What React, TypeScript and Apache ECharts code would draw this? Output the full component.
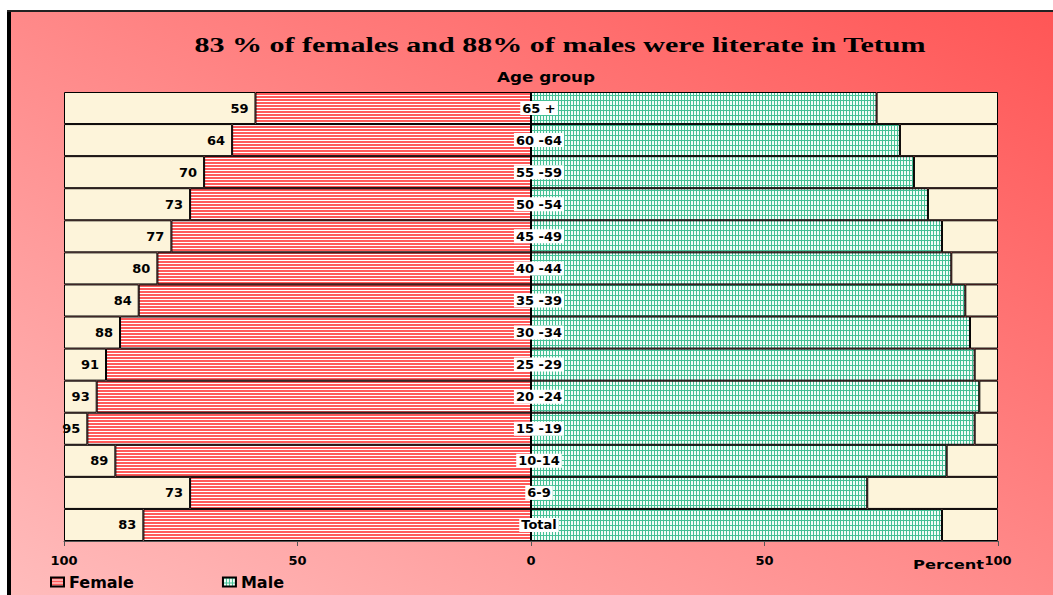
import React, { useEffect, useRef } from "react";
import * as echarts from "echarts";

const TITLE = "83 % of females and 88% of males were literate in Tetum";
const AGE_GROUPS = ["65 +", "60 -64", "55 -59", "50 -54", "45 -49", "40 -44", "35 -39", "30 -34", "25 -29", "20 -24", "15 -19", "10-14", "6-9", "Total"];
const FEMALE = [59, 64, 70, 73, 77, 80, 84, 88, 91, 93, 95, 89, 73, 83];
const MALE = [74, 79, 82, 85, 88, 90, 93, 94, 95, 96, 95, 89, 72, 88];
const X_TICKS = [-100, -50, 0, 50, 100];

const SANS = "DejaVu Sans";
const CREAM = "#fdf4da";

function makePattern(w: number, h: number, draw: (ctx: CanvasRenderingContext2D) => void) {
  const c = document.createElement("canvas");
  c.width = w;
  c.height = h;
  const ctx = c.getContext("2d")!;
  draw(ctx);
  return { image: c, repeat: "repeat" } as any;
}

export default function App() {
  const ref = useRef<HTMLDivElement>(null);
  useEffect(() => {
    if (!ref.current) return;
    const chart = echarts.init(ref.current, null, { renderer: "svg" });

    const femalePattern = makePattern(4, 3, (ctx) => {
      ctx.fillStyle = "#ffffff";
      ctx.fillRect(0, 0, 4, 3);
      ctx.fillStyle = "#ff5a5a";
      ctx.fillRect(0, 0, 4, 2);
    });
    const malePattern = makePattern(3, 5, (ctx) => {
      ctx.fillStyle = "#f2fcf7";
      ctx.fillRect(0, 0, 3, 5);
      ctx.fillStyle = "#45c096";
      ctx.fillRect(0, 0, 1, 5);
      ctx.fillRect(0, 0, 3, 1);
    });

    const mc = document.createElement("canvas").getContext("2d")!;
    mc.font = 'bold 20px "Liberation Serif"';
    const tw = mc.measureText(TITLE).width || 560;
    const titleScale = 732 / tw;

    const femaleNeg = FEMALE.map((v) => -v);
    const femaleRest = FEMALE.map((v) => -(100 - v));
    const maleRest = MALE.map((v) => 100 - v);

    const barBase = {
      type: "bar",
      barCategoryGap: "0%",
      barGap: "-100%",
    };

    chart.setOption({
      animation: false,
      graphic: [
        {
          type: "rect",
          z: -10,
          silent: true,
          shape: { x: 8, y: 11, width: 1045, height: 584 },
          style: {
            fill: new echarts.graphic.LinearGradient(0, 1, 1, 0, [
              { offset: 0, color: "#ffbcbc" },
              { offset: 1, color: "#ff5656" },
            ]),
          },
        },
        {
          type: "line",
          z: 100,
          silent: true,
          shape: { x1: 9, y1: 11, x2: 9, y2: 595 },
          style: { stroke: "#000", lineWidth: 4 },
        },
        {
          type: "line",
          z: 100,
          silent: true,
          shape: { x1: 7, y1: 11, x2: 1053, y2: 11 },
          style: { stroke: "#222", lineWidth: 2 },
        },
        {
          type: "text",
          x: 560,
          y: 45,
          scaleX: titleScale,
          style: {
            text: TITLE,
            fontFamily: "Liberation Serif",
            fontWeight: "bold",
            fontSize: 20,
            fill: "#000",
            align: "center",
            verticalAlign: "middle",
          },
        },
        {
          type: "text",
          x: 546,
          y: 77,
          scaleX: 1.2,
          style: {
            text: "Age group",
            fontFamily: SANS,
            fontWeight: "bold",
            fontSize: 14,
            fill: "#000",
            align: "center",
            verticalAlign: "middle",
          },
        },
        {
          type: "text",
          x: 984,
          y: 564,
          scaleX: 1.25,
          style: {
            text: "Percent",
            fontFamily: SANS,
            fontWeight: "bold",
            fontSize: 13,
            fill: "#000",
            align: "right",
            verticalAlign: "middle",
          },
        },
      ],
      grid: { left: 64, right: 55, top: 92, bottom: 54, containLabel: false },
      legend: {
        left: 45,
        top: 569,
        icon: "rect",
        itemWidth: 13,
        itemHeight: 9,
        itemGap: 88,
        data: ["Female", "Male"],
        textStyle: { fontFamily: SANS, fontWeight: "bold", fontSize: 16, color: "#000" },
      },
      xAxis: {
        type: "value",
        min: -100,
        max: 100,
        interval: 50,
        splitLine: { show: false },
        axisLine: { show: true, lineStyle: { color: "#555", width: 1 } },
        axisTick: { show: true, length: 5, lineStyle: { color: "#555" } },
        axisLabel: {
          margin: 13,
          fontFamily: SANS,
          fontWeight: "bold",
          fontSize: 13,
          color: "#000",
          formatter: (v: number) => (X_TICKS.includes(v) ? String(Math.abs(v)) : ""),
        },
      },
      yAxis: {
        type: "category",
        inverse: true,
        data: AGE_GROUPS,
        z: 10,
        axisLine: { show: false, onZero: false },
        axisTick: { show: false },
        splitLine: { show: false },
        axisLabel: {
          align: "center",
          margin: -475,
          fontFamily: SANS,
          fontWeight: "bold",
          fontSize: 13,
          color: "#000",
          backgroundColor: "#ffffff",
          padding: [1, 2, 0, 2],
        },
      },
      series: [
        {
          ...barBase,
          name: "Female",
          stack: "f",
          data: femaleNeg,
          itemStyle: { color: femalePattern, borderColor: "#000", borderWidth: 1 },
          label: {
            show: true,
            position: "left",
            distance: 7,
            fontFamily: SANS,
            fontWeight: "bold",
            fontSize: 13,
            color: "#000",
            formatter: (p: any) => String(Math.abs(p.value)),
          },
        },
        {
          ...barBase,
          name: "FemaleRest",
          stack: "f",
          data: femaleRest,
          itemStyle: { color: CREAM, borderColor: "#000", borderWidth: 1 },
        },
        {
          ...barBase,
          name: "Male",
          stack: "m",
          data: MALE,
          itemStyle: { color: malePattern, borderColor: "#000", borderWidth: 1 },
          markLine: {
            silent: true,
            symbol: "none",
            label: { show: false },
            lineStyle: { color: "#000", width: 2, type: "solid" },
            data: [{ xAxis: 0 }],
          },
        },
        {
          ...barBase,
          name: "MaleRest",
          stack: "m",
          data: maleRest,
          itemStyle: { color: CREAM, borderColor: "#000", borderWidth: 1 },
        },
      ],
    });

    return () => chart.dispose();
  }, []);

  return (
    <div
      ref={ref}
      style={{ position: "fixed", left: 0, top: 0, width: 1053, height: 595, background: "#fff" }}
    />
  );
}
